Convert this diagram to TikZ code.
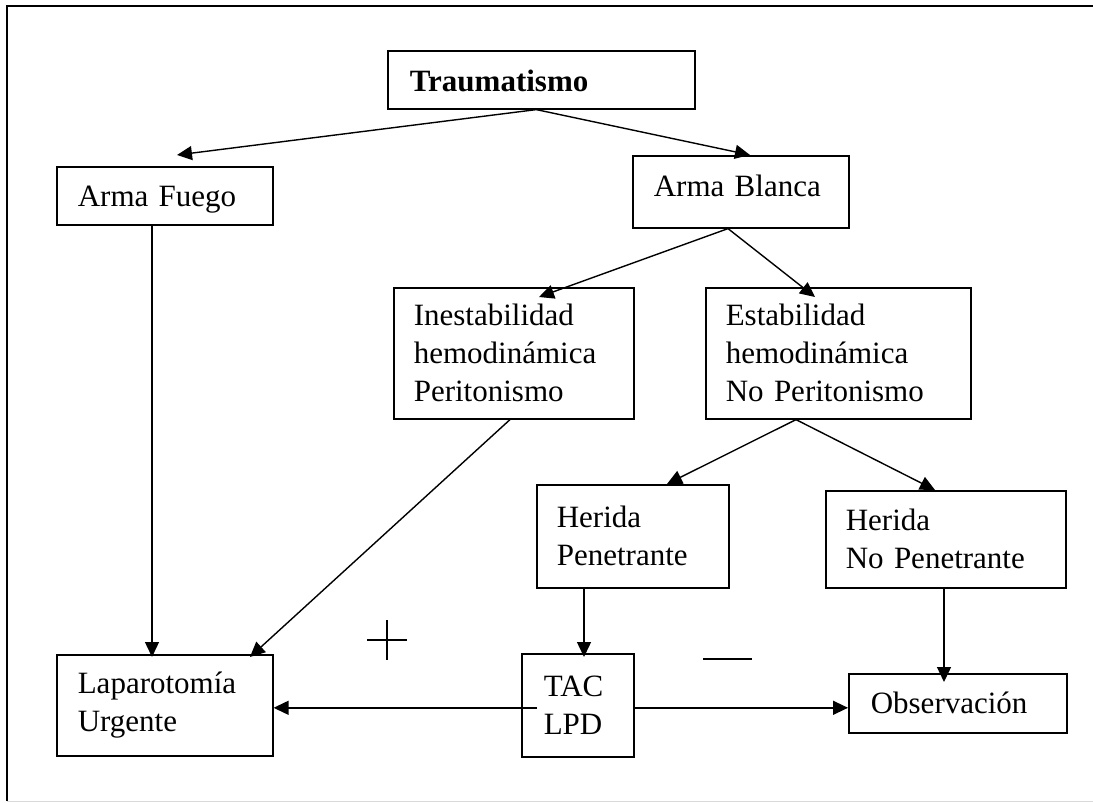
\documentclass[tikz,border=0pt]{standalone}
\usepackage{fontspec}
\setmainfont{Liberation Serif}
\usetikzlibrary{arrows.meta,calc}
\newcommand\boxfont{\fontsize{31}{38}\selectfont\hyphenpenalty=10000\relax\exhyphenpenalty=10000\relax}
\begin{document}
\begin{tikzpicture}[x=1pt,y=-1pt,
  box/.style={draw, line width=1.6pt, anchor=north west, align=left,
    inner ysep=0pt, inner xsep=#1, font=\boxfont},
  arr/.style={line width=1.4pt, -{Triangle[length=15pt,width=14pt]}},
  sign/.style={line width=1.2pt}]
\useasboundingbox (0,0) rectangle (1093,803);
% outer frame
\draw[line width=2pt] (7,801) -- (7,6) -- (1093,6);
\draw[line width=1pt, black!15] (7,801) -- (1093,801);

% boxes
\node[box=22pt, text width=263pt, minimum height=58pt, text height=23.5pt, text depth=0pt] (trau) at (387,50) {\textbf{Traumatismo}};
\node[box=21pt, text width=174pt, minimum height=58pt, text depth=0pt]  (fuego)  at (56,166)  {Arma Fuego};
\node[box=21pt, text width=174pt, minimum height=72pt, text depth=13pt] (blanca) at (632,155) {Arma Blanca};
\node[box=20pt, text width=200pt, minimum height=131pt] (ines)  at (393,287) {Inestabilidad\\hemodinámica\\Peritonismo};
\node[box=20pt, text width=225pt, minimum height=131pt] (est)   at (705,287) {Estabilidad\\hemodinámica\\No Peritonismo};
\node[box=20pt, text width=152pt, minimum height=103pt] (herp)  at (536,484) {Herida\\Penetrante};
\node[box=20pt, text width=200pt, minimum height=97pt]  (hernp) at (825,490) {Herida\\No Penetrante};
\node[box=21pt, text width=174pt, minimum height=101pt] (lap)   at (56,654)  {Laparotomía\\Urgente};
\node[box=22pt, text width=68pt,  minimum height=103pt] (tac)   at (521,653) {TAC\\LPD};
\node[box=22pt, text width=174pt, minimum height=59pt]  (obs)   at (848,673) {Observación};

% connectors
\coordinate (tapex) at ($(trau.south)+(-5,0)$);
\coordinate (bapex) at ($(blanca.south west)+(96,0)$);
\coordinate (eapex) at ($(est.south west)+(91,0)$);
\draw[arr] (tapex) -- ($(fuego.north west)+(121,-11)$);
\draw[arr] (tapex) -- ($(blanca.north west)+(118,0)$);
\draw[arr] (bapex) -- ($(ines.north west)+(146,10)$);
\draw[arr] (bapex) -- ($(est.north west)+(110,10)$);
\draw[arr] ($(fuego.south west)+(96,0)$) -- ($(lap.north west)+(96,3)$);
\draw[arr] ($(ines.south west)+(117,0)$) -- ($(lap.north west)+(194,3)$);
\draw[arr] (eapex) -- ($(herp.north west)+(131,0)$);
\draw[arr] (eapex) -- ($(hernp.north west)+(110,0)$);
\draw[arr] ($(herp.south west)+(48,0)$) -- ($(tac.north west)+(63,4)$);
\draw[arr] ($(hernp.south west)+(119,0)$) -- ($(obs.north west)+(96,9)$);
\coordinate (hl) at ($(tac.west)+(16,2.5)$);
\coordinate (hr) at ($(tac.east)+(0,2.5)$);
\draw[arr] (hl) -- (lap.east |- hl);
\draw[arr] (hr) -- (obs.west |- hr);

% plus and minus signs
\draw[sign] (367,640) -- (407,640) (387,620) -- (387,660);
\draw[sign] (703,659) -- (752,659);
\end{tikzpicture}
\end{document}
